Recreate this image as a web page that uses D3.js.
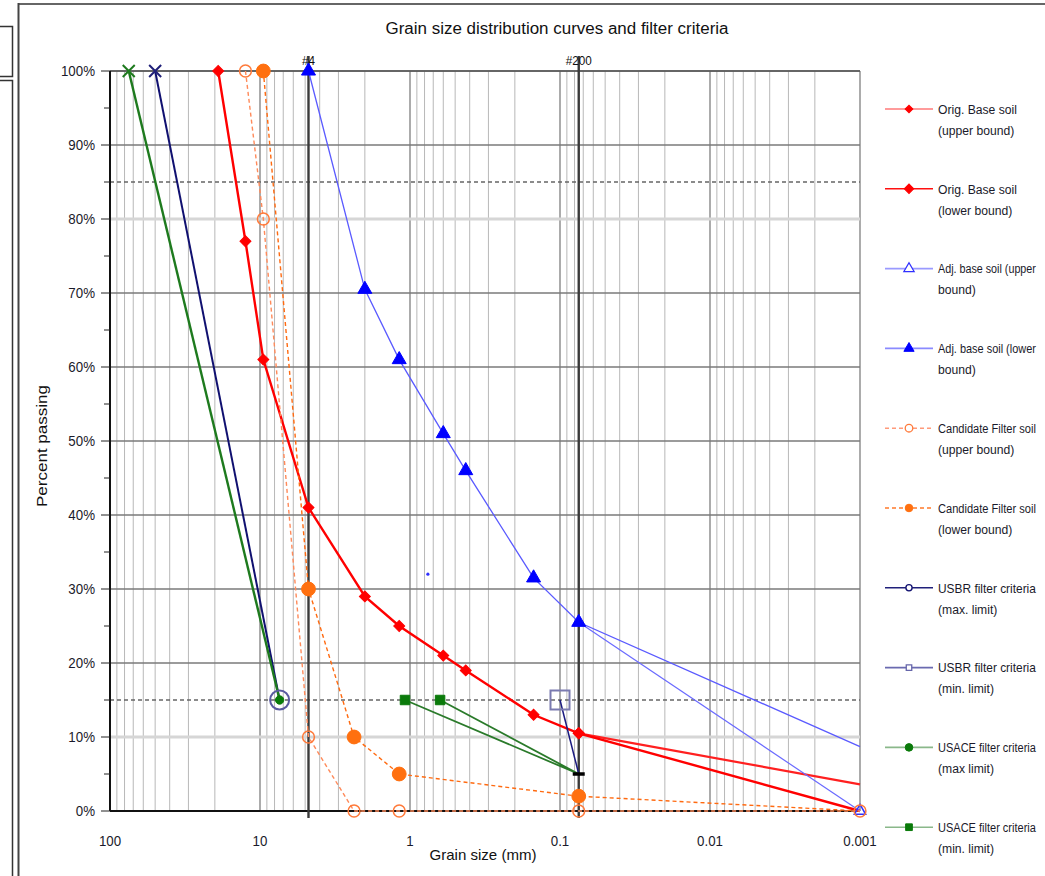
<!DOCTYPE html>
<html>
<head>
<meta charset="utf-8">
<script src="https://cdn.jsdelivr.net/npm/d3@7"></script>
<style>
body { margin: 0; background: #fff; }
svg { display: block; font-family: "Liberation Sans", Arial, sans-serif; }
</style>
</head>
<body>
<svg></svg>
<script>
// grain size (mm) and percent passing
var origUpperSize = [0.075, 0.001];
var origUpperPass = [10.5, 3.6];
var origLowerSize = [19, 12.5, 9.5, 4.75, 2.0, 1.18, 0.6, 0.425, 0.15, 0.075, 0.001];
var origLowerPass = [100, 77, 61, 41, 29, 25, 21, 19, 13, 10.5, 0];
var adjUpperSize = [0.075, 0.001];
var adjUpperPass = [25.5, 0];
var adjLowerSize = [4.75, 2.0, 1.18, 0.6, 0.425, 0.15, 0.075, 0.001];
var adjLowerPass = [100, 70.5, 61, 51, 46, 31.5, 25.5, 8.7];
var candUpperSize = [12.5, 9.5, 4.75, 2.36, 1.18, 0.075, 0.001];
var candUpperPass = [100, 80, 10, 0, 0, 0, 0];
var candLowerSize = [9.5, 4.75, 2.36, 1.18, 0.075, 0.001];
var candLowerPass = [100, 30, 10, 5, 2, 0];
var usbrMaxSize = [50, 7.4];
var usbrMaxPass = [100, 15];
var usbrMinSize = [0.1, 0.075];
var usbrMinPass = [15, 5];
var usaceMaxSize = [75, 7.4];
var usaceMaxPass = [100, 15];
var usaceMinSize = [1.08, 0.075, 0.63];
var usaceMinPass = [15, 5, 15];
var strayPoint = [0.76, 32];

var xTicks = [100, 10, 1, 0.1, 0.01, 0.001];
var xTickLabels = ["100", "10", "1", "0.1", "0.01", "0.001"];
var yTicks = [0, 10, 20, 30, 40, 50, 60, 70, 80, 90, 100];
var sieves = [4.75, 0.075];
var sieveLabels = ["#4", "#200"];
var criteriaLines = [85, 15];

var legendLabels = [
    ["Orig. Base soil", "(upper bound)"],
    ["Orig. Base soil", "(lower bound)"],
    ["Adj. base soil (upper", "bound)"],
    ["Adj. base soil (lower", "bound)"],
    ["Candidate Filter soil", "(upper bound)"],
    ["Candidate Filter soil", "(lower bound)"],
    ["USBR filter criteria", "(max. limit)"],
    ["USBR filter criteria", "(min. limit)"],
    ["USACE filter criteria", "(max limit)"],
    ["USACE filter criteria", "(min. limit)"]
];

var svg = d3.select("svg").attr("width", 1045).attr("height", 876);
svg.append("rect").attr("width", 1045).attr("height", 876).attr("fill", "#fff");

// squeeze a text to look like the narrow font of the original
function narrow(sel, factor, maxW) {
    sel.each(function() {
        var w = this.getComputedTextLength() * factor;
        if (maxW && w > maxW) w = maxW;
        d3.select(this).attr("textLength", w).attr("lengthAdjust", "spacingAndGlyphs");
    });
}

// frame pieces from the screenshot
svg.append("line").attr("x1", 18).attr("x2", 1045).attr("y1", 4).attr("y2", 4).attr("stroke", "#666").attr("stroke-width", 2);
svg.append("line").attr("x1", 18.5).attr("x2", 18.5).attr("y1", 3).attr("y2", 876).attr("stroke", "#444").attr("stroke-width", 2);
svg.append("path").attr("d", "M0,26.5H12.5V76.5H0M0,80.5H12.5V876").attr("fill", "none").attr("stroke", "#333").attr("stroke-width", 1.5);

var x = d3.scaleLog().domain([100, 0.001]).range([110, 860]);
var y = d3.scaleLinear().domain([0, 100]).range([811, 71]);

var grid = svg.append("g");

// log minor grid
var minor = [];
[10, 1, 0.1, 0.01, 0.001].forEach(function(base) {
    for (var m = 2; m <= 9; m++) minor.push(base * m);
});
grid.selectAll(".minor").data(minor).join("line")
    .attr("x1", d => x(d)).attr("x2", d => x(d))
    .attr("y1", y(100)).attr("y2", y(0))
    .attr("stroke", "#b8b8b8").attr("stroke-width", 1);
grid.selectAll(".major").data([10, 1, 0.1, 0.01, 0.001]).join("line")
    .attr("x1", d => x(d)).attr("x2", d => x(d))
    .attr("y1", y(100)).attr("y2", y(0))
    .attr("stroke", "#888").attr("stroke-width", 1.4);

// horizontal grid
grid.selectAll(".hgrid").data(yTicks).join("line")
    .attr("x1", x(100)).attr("x2", x(0.001))
    .attr("y1", d => y(d)).attr("y2", d => y(d))
    .attr("stroke", d => (d == 80 || d == 10) ? "#d6d6d6" : "#7a7a7a")
    .attr("stroke-width", d => (d == 80 || d == 10) ? 3 : 1.4);
grid.selectAll(".crit").data(criteriaLines).join("line")
    .attr("x1", x(100)).attr("x2", x(0.001))
    .attr("y1", d => y(d)).attr("y2", d => y(d))
    .attr("stroke", "#666").attr("stroke-width", 1.3).attr("stroke-dasharray", "4,3");

// plot border
grid.append("line").attr("x1", x(100)).attr("x2", x(0.001)).attr("y1", y(100)).attr("y2", y(100)).attr("stroke", "#555").attr("stroke-width", 1.6);
grid.append("line").attr("x1", x(100)).attr("x2", x(0.001)).attr("y1", y(0)).attr("y2", y(0)).attr("stroke", "#111").attr("stroke-width", 2);
grid.append("line").attr("x1", x(100)).attr("x2", x(100)).attr("y1", y(100)).attr("y2", y(0)).attr("stroke", "#111").attr("stroke-width", 2);

// y axis ticks
var yMinor = d3.range(0, 101, 5);
grid.selectAll(".ytick").data(yMinor).join("line")
    .attr("x1", d => d % 10 == 0 ? x(100) - 9 : x(100) - 6).attr("x2", x(100))
    .attr("y1", d => y(d)).attr("y2", d => y(d))
    .attr("stroke", "#222").attr("stroke-width", 1);
svg.selectAll(".ylab").data(yTicks).join("text")
    .attr("x", 95).attr("y", d => y(d)).attr("dy", "0.35em")
    .attr("text-anchor", "end").attr("font-size", 14).attr("fill", "#1a1a2a")
    .text(d => d + "%")
    .call(narrow, 0.95);

// x axis labels
svg.selectAll(".xlab").data(xTicks).join("text")
    .attr("x", d => x(d)).attr("y", 841).attr("dy", "0.35em")
    .attr("text-anchor", "middle").attr("font-size", 14).attr("fill", "#1a1a2a")
    .text((d, i) => xTickLabels[i])
    .call(narrow, 0.95);

// sieve lines
svg.selectAll(".sieve").data(sieves).join("line")
    .attr("x1", d => x(d)).attr("x2", d => x(d))
    .attr("y1", 56).attr("y2", 818)
    .attr("stroke", "#3a3a3a").attr("stroke-width", 2.4);
svg.selectAll(".sievelab").data(sieves).join("text")
    .attr("x", d => x(d)).attr("y", 65)
    .attr("text-anchor", "middle").attr("font-size", 13).attr("fill", "#111")
    .text((d, i) => sieveLabels[i])
    .call(narrow, 0.9);

// titles
svg.append("text").attr("x", 557).attr("y", 34).attr("text-anchor", "middle")
    .attr("font-size", 16).attr("fill", "#111").text("Grain size distribution curves and filter criteria")
    .attr("textLength", 343).attr("lengthAdjust", "spacingAndGlyphs");
svg.append("text").attr("x", 483).attr("y", 860).attr("text-anchor", "middle")
    .attr("font-size", 15).attr("fill", "#111").text("Grain size (mm)")
    .attr("textLength", 107).attr("lengthAdjust", "spacingAndGlyphs");
svg.append("text").attr("transform", "translate(47,446) rotate(-90)").attr("text-anchor", "middle")
    .attr("font-size", 15).attr("fill", "#111").text("Percent passing")
    .attr("textLength", 122).attr("lengthAdjust", "spacingAndGlyphs");

function pts(sizes, pass) {
    return sizes.map((s, i) => ({size: s, pass: pass[i]}));
}

// marks: indices of points that carry a marker
var series = [
    {data: pts(origUpperSize, origUpperPass), color: "#ff2020", width: 2.2, dash: null, marker: "diamond", fill: true, msize: 60, mcolor: "#ff0000", lcolor: "#ff7a7a", marks: [0]},
    {data: pts(origLowerSize, origLowerPass), color: "#ff0000", width: 2.4, dash: null, marker: "diamond", fill: true, msize: 60, mcolor: "#ff0000", lcolor: "#ff1010", marks: d3.range(10)},
    {data: pts(adjUpperSize, adjUpperPass), color: "#6a6aff", width: 1.2, dash: null, marker: "triangle", fill: false, msize: 55, mcolor: "#3030ff", lcolor: "#9a9aff", marks: [1]},
    {data: pts(adjLowerSize, adjLowerPass), color: "#5a5aff", width: 1.3, dash: null, marker: "triangle", fill: true, msize: 85, mcolor: "#0000ff", lcolor: "#8a8aff", marks: d3.range(7)},
    {data: pts(candUpperSize, candUpperPass), color: "#ff8a5a", width: 1.4, dash: "4,3", marker: "circle", fill: false, msize: 110, mcolor: "#ff7a3a", lcolor: "#ff9a7a", marks: d3.range(7)},
    {data: pts(candLowerSize, candLowerPass), color: "#ff6a10", width: 1.4, dash: "4,3", marker: "circle", fill: true, msize: 150, mcolor: "#ff7010", lcolor: "#ff7a2a", marks: d3.range(5)},
    {data: pts(usbrMaxSize, usbrMaxPass), color: "#101070", width: 2, dash: null, marker: "circle", fill: false, msize: 40, mcolor: "#101070", lcolor: "#20207a", marks: []},
    {data: pts(usbrMinSize, usbrMinPass), color: "#1a1a80", width: 1.5, dash: null, marker: "square", fill: false, msize: 45, mcolor: "#6666aa", lcolor: "#6a6ab0", marks: []},
    {data: pts(usaceMaxSize, usaceMaxPass), color: "#1e7a1e", width: 2.4, dash: null, marker: "circle", fill: true, msize: 55, mcolor: "#0a7a0a", lcolor: "#8ab88a", marks: [1]},
    {data: pts(usaceMinSize, usaceMinPass), color: "#2a7a2a", width: 1.8, dash: null, marker: "square", fill: true, msize: 90, mcolor: "#0a7a0a", lcolor: "#8ab88a", marks: [0, 2]}
];

var symbolType = {diamond: d3.symbolSquare, triangle: d3.symbolTriangle, circle: d3.symbolCircle, square: d3.symbolSquare};
var rot = {diamond: " rotate(45)", triangle: "", circle: "", square: ""};

var line = d3.line().x(d => x(d.size)).y(d => y(d.pass));
var plot = svg.append("g");

series.forEach(function(s) {
    plot.append("path").datum(s.data)
        .attr("fill", "none").attr("stroke", s.color)
        .attr("stroke-width", s.width)
        .attr("stroke-dasharray", s.dash)
        .attr("d", line);
});

// large markers of the filter criteria points
plot.append("circle").attr("cx", x(usbrMaxSize[1])).attr("cy", y(usbrMaxPass[1])).attr("r", 9.5)
    .attr("fill", "none").attr("stroke", "#5a5aa0").attr("stroke-width", 2);
plot.append("rect").attr("x", x(usbrMinSize[0]) - 9.5).attr("y", y(usbrMinPass[0]) - 9.5)
    .attr("width", 19).attr("height", 19)
    .attr("fill", "none").attr("stroke", "#7a7ab0").attr("stroke-width", 2);
plot.append("line").attr("x1", x(usbrMinSize[1]) - 6).attr("x2", x(usbrMinSize[1]) + 6)
    .attr("y1", y(usbrMinPass[1])).attr("y2", y(usbrMinPass[1])).attr("stroke", "#000").attr("stroke-width", 3.5);

series.forEach(function(s) {
    var sym = d3.symbol().type(symbolType[s.marker]).size(s.msize);
    var md = s.marks.map(i => s.data[i]);
    plot.selectAll(null).data(md).join("path")
        .attr("transform", d => "translate(" + x(d.size) + "," + y(d.pass) + ")" + rot[s.marker])
        .attr("d", sym)
        .attr("fill", s.fill ? s.mcolor : "#fff")
        .attr("fill-opacity", s.fill ? 1 : 0)
        .attr("stroke", s.mcolor).attr("stroke-width", s.fill ? 1 : 1.5);
});

// X marks at the top of the criteria lines
var crosses = [{size: usaceMaxSize[0], pass: usaceMaxPass[0], color: "#1e7a1e"}, {size: usbrMaxSize[0], pass: usbrMaxPass[0], color: "#202078"}];
crosses.forEach(function(c) {
    var cx = x(c.size), cy = y(c.pass);
    plot.append("path").attr("d", "M" + (cx - 6) + "," + (cy - 6) + "L" + (cx + 6) + "," + (cy + 6) + "M" + (cx + 6) + "," + (cy - 6) + "L" + (cx - 6) + "," + (cy + 6))
        .attr("stroke", c.color).attr("stroke-width", 2);
});

plot.append("circle").attr("cx", x(strayPoint[0])).attr("cy", y(strayPoint[1])).attr("r", 1.6).attr("fill", "#3030ff");

// legend
var legend = svg.append("g");
series.forEach(function(s, i) {
    var ly = 109 + i * 79.8;
    var g = legend.append("g").attr("transform", "translate(0," + ly + ")");
    g.append("line").attr("x1", 885).attr("x2", 933).attr("y1", 0).attr("y2", 0)
        .attr("stroke", s.lcolor).attr("stroke-width", 1.6).attr("stroke-dasharray", s.dash);
    g.append("path").attr("transform", "translate(909,0)" + rot[s.marker])
        .attr("d", d3.symbol().type(symbolType[s.marker]).size(i == 0 || i == 6 || i == 7 ? 30 : 45))
        .attr("fill", s.fill ? s.mcolor : "#fff")
        .attr("stroke", s.mcolor).attr("stroke-width", s.fill ? 1 : 1.3);
    legendLabels[i].forEach(function(txt, k) {
        var tg = g.append("g").attr("transform", "translate(938," + (k * 21) + ")");
        var t = tg.append("text").attr("dy", "0.35em")
            .attr("font-size", 13.5).attr("fill", "#1a1a2a").text(txt);
        var sx = Math.min(0.9, 98 / t.node().getComputedTextLength());
        tg.attr("transform", "translate(938," + (k * 21) + ") scale(" + sx + ",1)");
    });
});
</script>
</body>
</html>
